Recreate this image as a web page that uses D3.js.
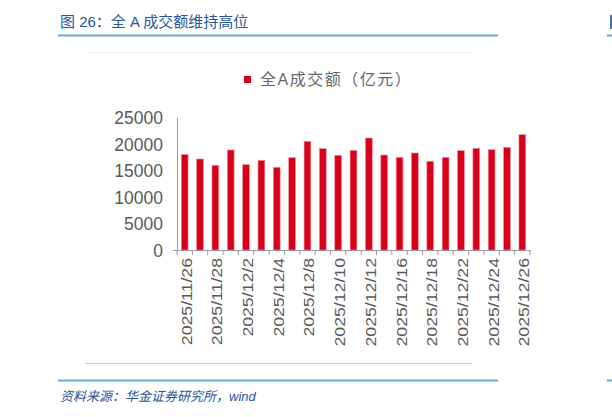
<!DOCTYPE html>
<html>
<head>
<meta charset="utf-8">
<script src="https://cdn.jsdelivr.net/npm/d3@7/dist/d3.min.js"></script>
<style>
  body { margin: 0; background: #fff; }
  svg { display: block; }
</style>
</head>
<body>
<svg id="chart" width="612" height="417"></svg>
<script>
const dates = [
  "2025/11/26", "2025/11/27", "2025/11/28", "2025/12/1", "2025/12/2", "2025/12/3",
  "2025/12/4", "2025/12/5", "2025/12/8", "2025/12/9", "2025/12/10", "2025/12/11",
  "2025/12/12", "2025/12/15", "2025/12/16", "2025/12/17", "2025/12/18", "2025/12/19",
  "2025/12/22", "2025/12/23", "2025/12/24", "2025/12/25", "2025/12/26"
];
const turnover = [
  18000, 17170, 15980, 18870, 16100, 16920, 15600, 17420, 20500, 19120, 17860, 18800,
  21130, 17920, 17480, 18300, 16730, 17480, 18740, 19180, 18930, 19370, 21760
];
const yTicks = [0, 5000, 10000, 15000, 20000, 25000];
const shownDates = [
  "2025/11/26", "2025/11/28", "2025/12/2", "2025/12/4", "2025/12/8", "2025/12/10",
  "2025/12/12", "2025/12/16", "2025/12/18", "2025/12/22", "2025/12/24", "2025/12/26"
];

const svg = d3.select("#chart");
const latin = "'Liberation Sans', Arial, sans-serif";
const cjk = "'Liberation Sans', 'Noto Sans CJK SC', sans-serif";

// title + rules
svg.append("text")
  .attr("x", 60).attr("y", 27)
  .attr("font-family", cjk).attr("font-size", 15).attr("fill", "#2a5599")
  .text("图 26：全 A 成交额维持高位");
svg.append("line").attr("x1", 58).attr("x2", 498).attr("y1", 35.5).attr("y2", 35.5)
  .attr("stroke", "#6fa8d3").attr("stroke-width", 2);
svg.append("line").attr("x1", 58).attr("x2", 498).attr("y1", 380.5).attr("y2", 380.5)
  .attr("stroke", "#6fa8d3").attr("stroke-width", 2);
// next column peeking in at the right edge
svg.append("rect").attr("x", 610).attr("y", 15).attr("width", 2).attr("height", 14).attr("fill", "#4a6fae");
svg.append("line").attr("x1", 607).attr("x2", 612).attr("y1", 35.5).attr("y2", 35.5)
  .attr("stroke", "#6fa8d3").attr("stroke-width", 2);
svg.append("line").attr("x1", 607).attr("x2", 612).attr("y1", 380.5).attr("y2", 380.5)
  .attr("stroke", "#6fa8d3").attr("stroke-width", 2);

// faint chart frame
svg.append("line").attr("x1", 85).attr("x2", 472).attr("y1", 52.5).attr("y2", 52.5)
  .attr("stroke", "#f2f2f2");
svg.append("line").attr("x1", 85).attr("x2", 472).attr("y1", 363.5).attr("y2", 363.5)
  .attr("stroke", "#cfcfcf");

svg.append("text")
  .attr("x", 60).attr("y", 401)
  .attr("font-family", cjk).attr("font-size", 13).attr("fill", "#2a5599")
  .attr("font-style", "italic")
  .text("资料来源：华金证券研究所，wind");

// scales
const x = d3.scaleBand().domain(dates).range([177, 530]).paddingInner(0.56).paddingOuter(0.28);
const y = d3.scaleLinear().domain([0, 25000]).range([250, 117.5]);

// bars
svg.append("g")
  .selectAll("rect")
  .data(turnover)
  .enter()
  .append("rect")
  .attr("x", (d, i) => x(dates[i]))
  .attr("y", (d) => y(d))
  .attr("width", x.bandwidth())
  .attr("height", (d) => y(0) - y(d))
  .attr("fill", "#d9001b")
  .attr("stroke", "#f08a95")
  .attr("stroke-width", 0.6);

// y axis
const yAxis = svg.append("g")
  .attr("transform", "translate(177,0)")
  .call(d3.axisLeft(y).tickValues(yTicks).tickFormat(d3.format("d")).tickSize(0).tickPadding(14));
yAxis.select(".domain").attr("stroke", "#9a9a9a");
yAxis.selectAll("text")
  .attr("font-family", latin).attr("font-size", 17.5).attr("fill", "#595959")
  .attr("dy", "0.36em");

// x axis
const step = x.step();
const tickPos = d3.range(dates.length + 1).map((i) => 177 + i * step);
const xg = svg.append("g");
xg.append("line").attr("x1", 173).attr("x2", 530.5).attr("y1", 250.5).attr("y2", 250.5)
  .attr("stroke", "#9a9a9a");
xg.selectAll("line.tick")
  .data(tickPos)
  .enter()
  .append("line")
  .attr("class", "tick")
  .attr("x1", (d) => d).attr("x2", (d) => d)
  .attr("y1", 250).attr("y2", 255)
  .attr("stroke", "#9a9a9a");

xg.selectAll("text")
  .data(shownDates)
  .enter()
  .append("text")
  .attr("transform", (d) => `translate(${x(d) + x.bandwidth() / 2 + 7},258) rotate(-90) scale(1.22,1)`)
  .attr("text-anchor", "end")
  .attr("font-family", latin).attr("font-size", 14.5).attr("fill", "#595959")
  .text((d) => d);

// legend
svg.append("rect").attr("x", 244).attr("y", 76).attr("width", 7).attr("height", 7).attr("fill", "#d9001b");
svg.append("text")
  .attr("x", 260).attr("y", 85)
  .attr("font-family", cjk).attr("font-size", 16).attr("fill", "#666")
  .attr("letter-spacing", 1.5)
  .text("全A成交额（亿元）");
</script>
</body>
</html>
